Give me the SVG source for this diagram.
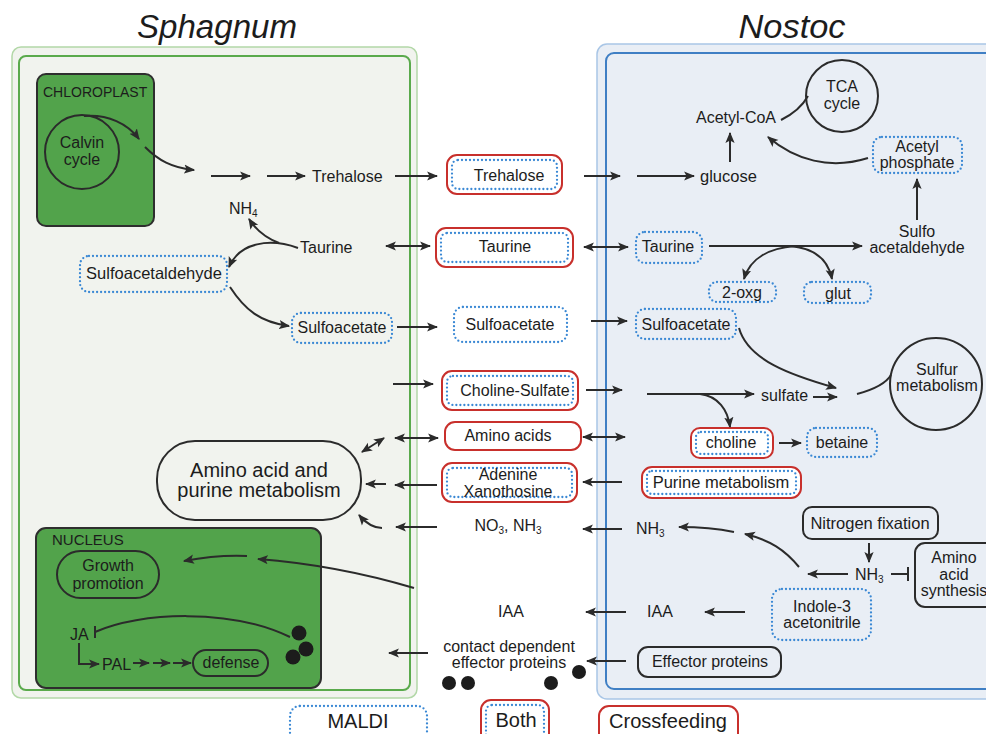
<svg xmlns="http://www.w3.org/2000/svg" width="986" height="734" viewBox="0 0 986 734">
<defs>
<marker id="ah" viewBox="0 0 10 10" refX="9" refY="5" markerWidth="11" markerHeight="11" markerUnits="userSpaceOnUse" orient="auto-start-reverse"><path d="M0,0.8 L10,5 L0,9.2 L2.2,5 z" fill="#2b2b2b"/></marker>
<style>
text{font-family:"Liberation Sans",Arial,Helvetica,sans-serif;font-size:16px;fill:#1c1c1c}
.c{text-anchor:middle}
.ttl{font-size:34px;font-style:italic;text-anchor:middle}
.ln{fill:none;stroke:#2b2b2b;stroke-width:2}
.ar{marker-end:url(#ah)}
.da{marker-start:url(#ah);marker-end:url(#ah)}
.red{fill:#fff;stroke:#c8302c;stroke-width:2}
.blu{fill:none;stroke:#3a88d4;stroke-width:2.3;stroke-dasharray:0 4;stroke-linecap:round}
.blk{fill:none;stroke:#2b2b2b;stroke-width:2}
.grn{fill:#52a34b;stroke:#2e2e2e;stroke-width:2}
.dot{fill:#1c1c1c}
.sub{font-size:10px}
</style>
</defs>
<rect width="986" height="734" fill="#fff"/>
<g id="titles">
<text class="ttl" x="217" y="38" textLength="160" lengthAdjust="spacingAndGlyphs">Sphagnum</text>
<text class="ttl" x="792" y="38" textLength="107" lengthAdjust="spacingAndGlyphs">Nostoc</text>
</g>
<g id="sphagnum-panel">
<rect x="12" y="47" width="405" height="651" rx="9" fill="#f1f3ee" stroke="#b3d8a8" stroke-width="1.5"/>
<rect x="19" y="56" width="391" height="634" rx="7" fill="none" stroke="#5aaa4c" stroke-width="2"/>
</g>
<g id="nostoc-panel">
<rect x="597" y="44" width="420" height="655" rx="10" fill="#e9eef5" stroke="#a9c6e6" stroke-width="1.5"/>
<rect x="606" y="53" width="400" height="636" rx="8" fill="none" stroke="#3f7fc4" stroke-width="2"/>
</g>
<g id="chloroplast">
<rect class="grn" x="37" y="74" width="117" height="152" rx="9"/>
<text x="43" y="97" style="font-size:14px">CHLOROPLAST</text>
</g>
<g id="calvin">
<circle cx="82" cy="152" r="37" class="blk"/>
<text class="c" x="82" y="148">Calvin</text>
<text class="c" x="82" y="165">cycle</text>
</g>
<g id="nucleus">
<rect class="grn" x="36" y="528" width="285" height="160" rx="10"/>
<text x="52" y="545" style="font-size:15px">NUCLEUS</text>
</g>
<g id="growth">
<rect x="57" y="551" width="102" height="47" rx="23.5" class="blk"/>
<text class="c" x="108" y="571">Growth</text>
<text class="c" x="108" y="589">promotion</text>
</g>
<g id="ja"><text x="70" y="640">JA</text></g>
<g id="pal"><text x="102" y="670">PAL</text></g>
<g id="defense">
<rect x="193" y="650" width="75" height="26" rx="13" class="blk"/>
<text class="c" x="231" y="668">defense</text>
</g>
<g id="nucleus-dots">
<circle class="dot" cx="299" cy="633" r="7.5"/>
<circle class="dot" cx="306" cy="649" r="7.5"/>
<circle class="dot" cx="293" cy="657" r="7.5"/>
</g>
<g id="trehalose-left"><text x="312" y="182">Trehalose</text></g>
<g id="nh4-left"><text x="229" y="214">NH<tspan class="sub" dy="3">4</tspan></text></g>
<g id="taurine-left"><text x="300" y="253">Taurine</text></g>
<g id="sulfoacetaldehyde-left">
<rect class="blu" x="80" y="256" width="147" height="36" rx="9"/>
<text class="c" x="154" y="279" style="font-size:16.5px">Sulfoacetaldehyde</text>
</g>
<g id="sulfoacetate-left">
<rect class="blu" x="292" y="313" width="100" height="30" rx="9"/>
<text class="c" x="342" y="333">Sulfoacetate</text>
</g>
<g id="aa-purine">
<rect x="157" y="441" width="204" height="79" rx="38" class="blk" fill="#fff"/>
<text class="c" x="259" y="477" style="font-size:20px">Amino acid and</text>
<text class="c" x="259" y="497" style="font-size:20px">purine metabolism</text>
</g>
<g id="trehalose-mid">
<rect class="red" x="447" y="155" width="115" height="39" rx="10"/>
<rect class="blu" x="452" y="160" width="105" height="29" rx="6"/>
<text class="c" x="509" y="181">Trehalose</text>
</g>
<g id="taurine-mid">
<rect class="red" x="436" y="228" width="137" height="39" rx="10"/>
<rect class="blu" x="441" y="233" width="127" height="29" rx="6"/>
<text class="c" x="505" y="252">Taurine</text>
</g>
<g id="sulfoacetate-mid">
<rect class="blu" x="454" y="307" width="113" height="35" rx="9"/>
<text class="c" x="510" y="330">Sulfoacetate</text>
</g>
<g id="cholinesulfate-mid">
<rect class="red" x="442" y="371" width="136" height="39" rx="10"/>
<rect class="blu" x="447" y="376" width="126" height="29" rx="6"/>
<text class="c" x="515" y="396">Choline-Sulfate</text>
</g>
<g id="aminoacids-mid">
<rect class="red" x="445" y="422" width="136" height="28" rx="10"/>
<text class="c" x="508" y="441">Amino acids</text>
</g>
<g id="adenine-mid">
<rect class="red" x="442" y="463" width="135" height="39" rx="10"/>
<rect class="blu" x="447" y="468" width="125" height="29" rx="6"/>
<text class="c" x="508" y="480">Adenine</text>
<text class="c" x="508" y="497">Xanothosine</text>
</g>
<g id="no3nh3-mid"><text class="c" x="508" y="531">NO<tspan class="sub" dy="3">3</tspan><tspan dy="-3">, NH</tspan><tspan class="sub" dy="3">3</tspan></text></g>
<g id="iaa-mid"><text class="c" x="511" y="617">IAA</text></g>
<g id="contact-mid">
<text class="c" x="509" y="652">contact dependent</text>
<text class="c" x="509" y="668">effector proteins</text>
<circle class="dot" cx="449" cy="683" r="7"/>
<circle class="dot" cx="468" cy="683" r="7"/>
<circle class="dot" cx="551" cy="683" r="7"/>
<circle class="dot" cx="579" cy="672" r="7"/>
</g>
<g id="tca">
<circle cx="842" cy="96" r="36" class="blk"/>
<text class="c" x="842" y="92">TCA</text>
<text class="c" x="842" y="109">cycle</text>
</g>
<g id="acetylcoa"><text class="c" x="736" y="123">Acetyl-CoA</text></g>
<g id="glucose"><text x="700" y="182" style="font-size:16.5px">glucose</text></g>
<g id="acetylphosphate">
<rect class="blu" x="873" y="137" width="89" height="36" rx="9"/>
<text class="c" x="917" y="152">Acetyl</text>
<text class="c" x="917" y="168">phosphate</text>
</g>
<g id="sulfoacetaldehyde-right">
<text class="c" x="917" y="237">Sulfo</text>
<text class="c" x="917" y="253">acetaldehyde</text>
</g>
<g id="taurine-right">
<rect class="blu" x="636" y="232" width="66" height="31" rx="9"/>
<text class="c" x="668" y="252">Taurine</text>
</g>
<g id="oxg">
<rect class="blu" x="709" y="282" width="67" height="20" rx="8"/>
<text class="c" x="742" y="298">2-oxg</text>
</g>
<g id="glut">
<rect class="blu" x="804" y="282" width="67" height="21" rx="8"/>
<text class="c" x="838" y="299">glut</text>
</g>
<g id="sulfoacetate-right">
<rect class="blu" x="636" y="309" width="100" height="30" rx="9"/>
<text class="c" x="686" y="330">Sulfoacetate</text>
</g>
<g id="sulfate"><text x="761" y="401">sulfate</text></g>
<g id="sulfur">
<circle cx="936" cy="384" r="46" class="blk"/>
<text class="c" x="937" y="375">Sulfur</text>
<text class="c" x="937" y="391">metabolism</text>
</g>
<g id="choline">
<rect class="red" x="691" y="428" width="82" height="30" rx="9"/>
<rect class="blu" x="696" y="432" width="72" height="22" rx="5"/>
<text class="c" x="731" y="448">choline</text>
</g>
<g id="betaine">
<rect class="blu" x="807" y="428" width="70" height="29" rx="9"/>
<text class="c" x="842" y="448">betaine</text>
</g>
<g id="purine">
<rect class="red" x="642" y="467" width="159" height="31" rx="10"/>
<rect class="blu" x="647" y="471" width="149" height="23" rx="5"/>
<text class="c" x="721" y="488" style="font-size:16.5px">Purine metabolism</text>
</g>
<g id="nitrogenfixation">
<rect class="blk" x="803" y="507" width="135" height="32" rx="9"/>
<text class="c" x="870" y="529" style="font-size:16.5px">Nitrogen fixation</text>
</g>
<g id="nh3-right"><text x="855" y="580">NH<tspan class="sub" dy="3">3</tspan></text></g>
<g id="aasynthesis">
<rect class="blk" x="915" y="543" width="82" height="64" rx="10"/>
<text class="c" x="954" y="563">Amino</text>
<text class="c" x="954" y="580">acid</text>
<text class="c" x="954" y="596">synthesis</text>
</g>
<g id="nh3-mid"><text x="636" y="534">NH<tspan class="sub" dy="3">3</tspan></text></g>
<g id="indole">
<rect class="blu" x="772" y="589" width="99" height="51" rx="10"/>
<text class="c" x="822" y="612">Indole-3</text>
<text class="c" x="822" y="628">acetonitrile</text>
</g>
<g id="iaa-right"><text class="c" x="660" y="617">IAA</text></g>
<g id="effector">
<rect class="blk" x="638" y="647" width="143" height="30" rx="10"/>
<text class="c" x="710" y="667">Effector proteins</text>
</g>
<g id="legend">
<rect class="blu" x="290" y="706" width="137" height="40" rx="10"/>
<text class="c" x="358" y="728" style="font-size:20px">MALDI</text>
<rect class="red" x="481" y="700" width="68" height="45" rx="10"/>
<rect class="blu" x="486" y="705" width="58" height="36" rx="6"/>
<text class="c" x="516" y="727" style="font-size:20px">Both</text>
<rect class="red" x="599" y="706" width="139" height="40" rx="10"/>
<text class="c" x="668" y="728" style="font-size:20px">Crossfeeding</text>
</g>
<g id="connectors">
<path class="ln ar" d="M84,116 C108,114 128,124 139,139"/>
<path class="ln ar" d="M145,147 C158,160 172,168 194,170"/>
<path class="ln ar" d="M211,176 L250,176"/>
<path class="ln ar" d="M267,176 L305,176"/>
<path class="ln ar" d="M395,176 L437,176"/>
<path class="ln ar" d="M298,248 C270,238 240,242 229,267"/>
<path class="ln ar" d="M279,243 C266,238 256,230 249,219"/>
<path class="ln da" d="M386,246 L430,246"/>
<path class="ln ar" d="M230,287 C245,310 260,322 289,326"/>
<path class="ln ar" d="M397,327 L437,327"/>
<path class="ln ar" d="M393,384 L433,384"/>
<path class="ln da" d="M362,452 L384,438"/>
<path class="ln da" d="M395,438 L438,438"/>
<path class="ln ar" d="M386,484 L366,484"/>
<path class="ln ar" d="M437,485 L395,485"/>
<path class="ln ar" d="M382,528 C372,528 365,522 359,515"/>
<path class="ln ar" d="M437,527 L396,527"/>
<path class="ln ar" d="M247,556 C225,555 205,557 184,561"/>
<path class="ln ar" d="M414,588 C360,572 310,563 258,559"/>
<path class="ln" d="M290,637 C230,608 140,612 95,632"/>
<path class="ln" d="M95,626 L95,638"/>
<path class="ln ar" d="M79,643 L79,664 L99,664"/>
<path class="ln ar" d="M133,663 L149,663"/>
<path class="ln ar" d="M153,663 L170,663"/>
<path class="ln ar" d="M173,663 L191,663"/>
<path class="ln ar" d="M428,653 L389,653"/>
<path class="ln ar" d="M584,176 L620,176"/>
<path class="ln ar" d="M637,176 L694,176"/>
<path class="ln ar" d="M730,162 L730,133"/>
<path class="ln" d="M781,120 C795,113 803,105 808,96"/>
<path class="ln ar" d="M868,158 C830,170 795,160 768,137"/>
<path class="ln ar" d="M917,220 L917,179"/>
<path class="ln da" d="M584,247 L628,247"/>
<path class="ln ar" d="M709,246 L862,246"/>
<path class="ln ar" d="M795,246 C770,248 750,258 744,279"/>
<path class="ln ar" d="M790,246 C812,248 828,258 832,279"/>
<path class="ln ar" d="M591,321 L627,321"/>
<path class="ln ar" d="M739,328 C748,360 790,375 836,388"/>
<path class="ln ar" d="M586,390 L622,390"/>
<path class="ln ar" d="M647,394 L754,394"/>
<path class="ln ar" d="M813,397 L837,397"/>
<path class="ln" d="M857,394 C872,390 885,385 891,375"/>
<path class="ln ar" d="M700,394 C718,396 728,410 730,427"/>
<path class="ln da" d="M583,437 L625,437"/>
<path class="ln ar" d="M779,443 L801,443"/>
<path class="ln ar" d="M622,482 L583,482"/>
<path class="ln ar" d="M869,543 L869,562"/>
<path class="ln ar" d="M848,574 L808,574"/>
<path class="ln" d="M891,574 L908,574"/>
<path class="ln" d="M908,567 L908,581"/>
<path class="ln ar" d="M799,567 C785,550 770,540 745,534"/>
<path class="ln ar" d="M734,532 C715,528 700,527 679,527"/>
<path class="ln ar" d="M622,529 L583,529"/>
<path class="ln ar" d="M745,612 L705,612"/>
<path class="ln ar" d="M626,612 L586,612"/>
<path class="ln ar" d="M626,661 L587,661"/>
</g>
</svg>
